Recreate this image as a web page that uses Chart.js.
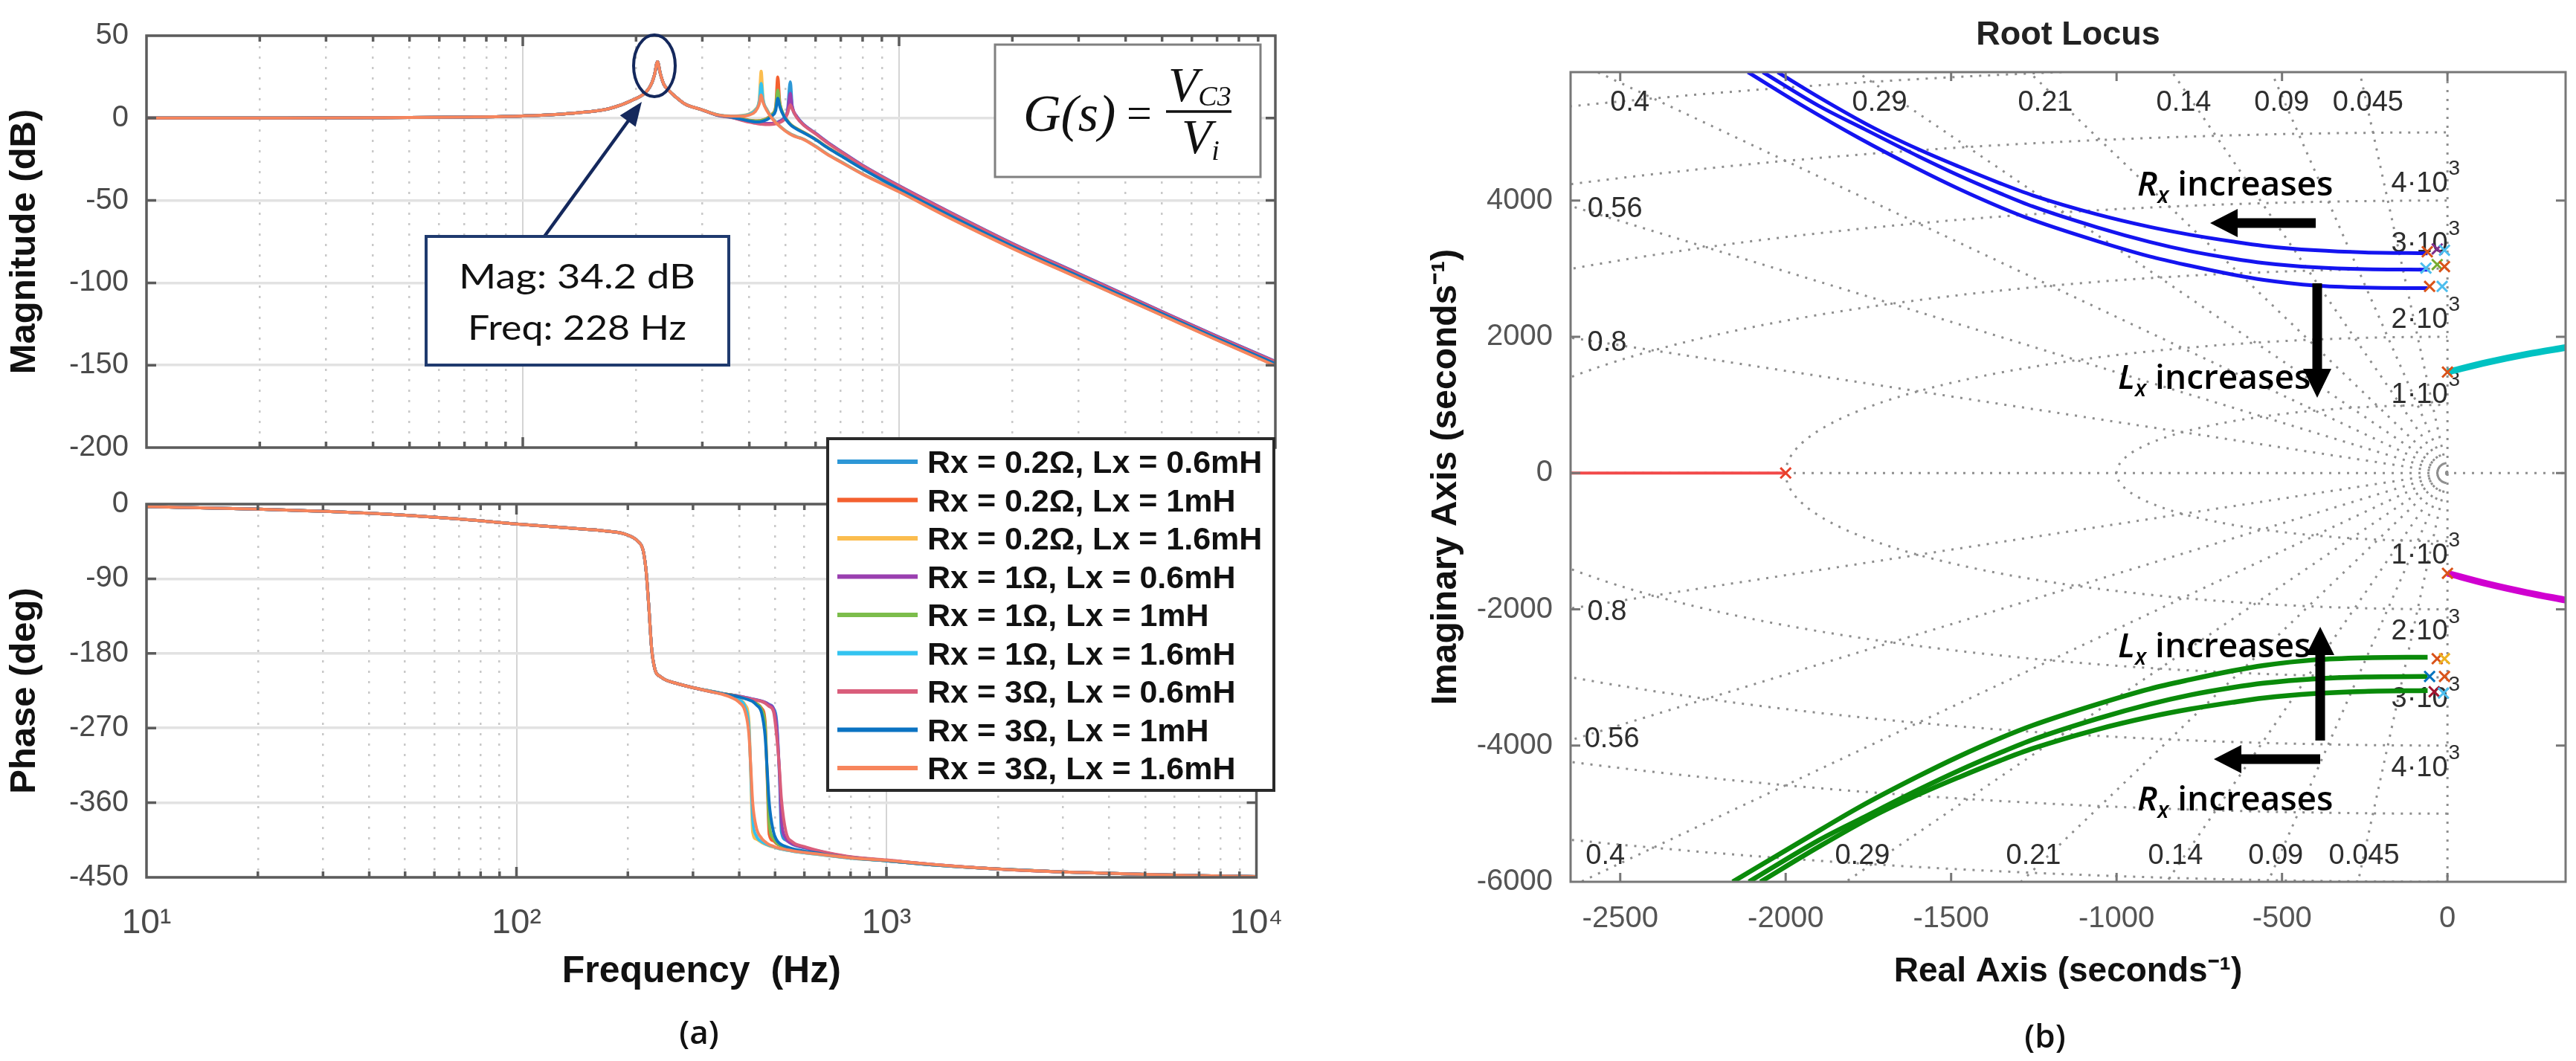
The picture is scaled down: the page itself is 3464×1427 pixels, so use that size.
<!DOCTYPE html>
<html>
<head>
<meta charset="utf-8">
<script src="https://cdn.jsdelivr.net/npm/chart.js@4.4.1/dist/chart.umd.min.js"></script>
<style>
html, body { margin: 0; padding: 0; background: #fff; }
body { width: 3464px; height: 1427px; position: relative; overflow: hidden; }
.box { position: absolute; }
#overlay { position: absolute; left: 0; top: 0; z-index: 5; }
</style>
</head>
<body>
<div class="box" style="left:0;top:0;width:1760px;height:650px"><canvas id="mag"></canvas></div>
<div class="box" style="left:0;top:630px;width:1760px;height:797px"><canvas id="phase"></canvas></div>
<div class="box" style="left:1880px;top:0;width:1584px;height:1427px"><canvas id="rl"></canvas></div>

<svg id="overlay" width="3464" height="1427" xmlns="http://www.w3.org/2000/svg">
  <!-- peak marker + callout -->
  <ellipse cx="880" cy="88.5" rx="28" ry="41.5" fill="none" stroke="#14285c" stroke-width="4"/>
  <line x1="732" y1="318" x2="846" y2="161" stroke="#14285c" stroke-width="4.5"/>
  <polygon points="863,137 854.7,170.5 833.7,155.3" fill="#14285c"/>
  <rect x="573" y="318" width="407" height="173" fill="#fff" stroke="#1f3a6e" stroke-width="4"/>
  <text x="776" y="388" text-anchor="middle" font-family="Lato, 'Open Sans', sans-serif" font-size="46" fill="#111" textLength="318" lengthAdjust="spacingAndGlyphs">Mag: 34.2 dB</text>
  <text x="776" y="457" text-anchor="middle" font-family="Lato, 'Open Sans', sans-serif" font-size="46" fill="#111" textLength="294" lengthAdjust="spacingAndGlyphs">Freq: 228 Hz</text>

  <!-- transfer function box -->
  <rect x="1338" y="60" width="357" height="178" fill="#fff" stroke="#808080" stroke-width="3"/>
  <text x="1376" y="176" font-family="'Liberation Serif', 'DejaVu Serif', serif" font-size="70" font-style="italic" fill="#111">G(s)</text>
  <text x="1515" y="172" font-family="'Liberation Serif', 'DejaVu Serif', serif" font-size="60" fill="#111">=</text>
  <text x="1571" y="136" font-family="'Liberation Serif', 'DejaVu Serif', serif" font-size="66" font-style="italic" fill="#111">V<tspan font-size="38" dy="6">C3</tspan></text>
  <line x1="1568" y1="150" x2="1656" y2="150" stroke="#111" stroke-width="3.5"/>
  <text x="1589" y="206" font-family="'Liberation Serif', 'DejaVu Serif', serif" font-size="66" font-style="italic" fill="#111">V<tspan font-size="38" dy="9">i</tspan></text>

  <!-- legend (rows filled in by script) -->
  <rect x="1113" y="590" width="600" height="473" fill="#fff" stroke="#2a2a2a" stroke-width="4"/>
  <g id="legendRows"></g>

  <text x="940" y="1404" text-anchor="middle" font-family="'Open Sans', sans-serif" font-weight="600" font-size="44" fill="#111">(a)</text>

  <!-- right panel texts and arrows -->
  <text x="2781" y="60" text-anchor="middle" font-family="'Liberation Sans', Arial, sans-serif" font-weight="bold" font-size="45" fill="#222">Root Locus</text>
  <text x="2750" y="1409" text-anchor="middle" font-family="'Open Sans', sans-serif" font-weight="600" font-size="44" fill="#111">(b)</text>

  <g font-family="'Open Sans', sans-serif" font-weight="600" font-size="46" fill="#000">
    <text x="2874" y="263"><tspan font-style="italic">R</tspan><tspan font-style="italic" font-size="30" dy="10">x</tspan><tspan dy="-10"> increases</tspan></text>
    <text x="2848" y="523"><tspan font-style="italic">L</tspan><tspan font-style="italic" font-size="30" dy="10">x</tspan><tspan dy="-10"> increases</tspan></text>
    <text x="2848" y="884"><tspan font-style="italic">L</tspan><tspan font-style="italic" font-size="30" dy="10">x</tspan><tspan dy="-10"> increases</tspan></text>
    <text x="2874" y="1090"><tspan font-style="italic">R</tspan><tspan font-style="italic" font-size="30" dy="10">x</tspan><tspan dy="-10"> increases</tspan></text>
  </g>
  <g fill="#000">
    <polygon points="2972,300 3009,281 3009,293.5 3114,293.5 3114,306.5 3009,306.5 3009,319"/>
    <polygon points="3109.5,381 3122.5,381 3122.5,496 3135,496 3116,535 3097,496 3109.5,496"/>
    <polygon points="3113.5,996 3126.5,996 3126.5,881 3139,881 3120,843 3101,881 3113.5,881"/>
    <polygon points="2977,1021 3014,1002 3014,1014.5 3120,1014.5 3120,1027.5 3014,1027.5 3014,1040"/>
  </g>
</svg>

<script>
// ---------------- Bode data (a) ----------------
var seriesLabels = [
  "Rx = 0.2\u03A9, Lx = 0.6mH", "Rx = 0.2\u03A9, Lx = 1mH", "Rx = 0.2\u03A9, Lx = 1.6mH",
  "Rx = 1\u03A9, Lx = 0.6mH", "Rx = 1\u03A9, Lx = 1mH", "Rx = 1\u03A9, Lx = 1.6mH",
  "Rx = 3\u03A9, Lx = 0.6mH", "Rx = 3\u03A9, Lx = 1mH", "Rx = 3\u03A9, Lx = 1.6mH"
];
var seriesColors = ["#2d97d6", "#f4602f", "#fbbd4f", "#9a3fb0", "#7cbd4b", "#33c3f0", "#d95d7b", "#0b73c2", "#f7855c"];

var freqHead = [10, 20, 40, 70, 100, 140, 170, 196, 213, 220, 224, 228, 232, 237, 245, 253, 270, 298];
var magHead = [0, 0.05, 0.2, 0.6, 1.3, 3.2, 5.8, 11, 16, 21, 26.5, 34.2, 27, 20.5, 16.5, 13.5, 8.5, 5.2];
var phaseHead = [-3, -6, -11, -18, -24, -29, -32, -36, -45, -56, -80, -125, -175, -200, -208, -212, -216, -221];

var freqTail = [330, 358, 380, 400, 415, 425, 430, 435, 445, 460, 470, 476, 482, 495, 505, 514, 520, 535, 556, 600, 645, 700, 800, 1000, 1380, 2000, 3000, 5000, 7000, 10000];

var magR02L06 = [1.7, 0.5, -0.8, -2, -2.7, -3, -3.1, -3.2, -3.3, -3.2, -2.8, -2.4, -1.8, 0.2, 4.2, 22, 7.5, 1, -3.6, -9.2, -14.6, -20, -28.6, -41, -57.6, -76, -94.3, -117.4, -132.4, -147.6];
var magR02L1  = [1.8, 0.8, -0.3, -1.3, -1.7, -1.6, -1.4, -1.1, -0.2, 2.5, 7, 25, 9.5, 1.5, -1.5, -3.6, -4.6, -6.4, -8.4, -12.8, -17.7, -22.6, -30.6, -42.8, -59.4, -77.5, -95.6, -118.4, -133.4, -148.8];
var magR02L16 = [2, 1.3, 1.5, 2.6, 5.2, 11, 28.5, 12, 5.5, 0.2, -2.3, -3.6, -4.8, -7, -8.4, -9.5, -10.1, -11.3, -12.6, -17, -21.8, -26.4, -33.8, -44.5, -61, -78.8, -96.8, -119.5, -134.5, -150];
var magR1L06  = [1.7, 0.5, -0.9, -2.1, -2.8, -3.1, -3.2, -3.3, -3.4, -3.3, -3, -2.6, -2, -0.1, 3.8, 15, 7, 0.8, -3.7, -9.3, -14.7, -20.1, -28.7, -41.1, -57.7, -76.1, -94.4, -117.5, -132.5, -147.7];
var magR1L1   = [1.8, 0.8, -0.4, -1.4, -1.8, -1.7, -1.5, -1.2, -0.4, 2.2, 6.3, 17, 8.8, 1.3, -1.6, -3.7, -4.7, -6.5, -8.5, -12.9, -17.8, -22.7, -30.7, -42.9, -59.5, -77.6, -95.7, -118.5, -133.5, -148.9];
var magR1L16  = [2, 1.3, 1.4, 2.4, 4.8, 10.2, 21, 11.2, 5.2, 0.1, -2.4, -3.7, -4.9, -7.1, -8.5, -9.6, -10.2, -11.4, -12.7, -17.1, -21.9, -26.5, -33.9, -44.6, -61.1, -78.9, -96.9, -119.6, -134.6, -150.1];
var magR3L06  = [1.6, 0.3, -1.2, -2.5, -3.2, -3.6, -3.7, -3.8, -3.9, -3.8, -3.5, -3.2, -2.7, -1, 2.5, 8, 5.5, 0.2, -4, -9.6, -15, -20.4, -29, -41.4, -58, -76.4, -94.7, -117.8, -132.8, -148];
var magR3L1   = [1.7, 0.6, -0.7, -1.8, -2.3, -2.3, -2.1, -1.8, -1, 1.4, 4.6, 12, 7, 0.8, -2, -4, -5, -6.8, -8.8, -13.1, -18, -22.9, -30.9, -43.1, -59.7, -77.8, -95.9, -118.7, -133.7, -149.1];
var magR3L16  = [1.9, 1.1, 1.1, 1.9, 4, 8.5, 14, 9.5, 4.6, -0.3, -2.7, -3.9, -5.1, -7.3, -8.7, -9.8, -10.4, -11.6, -12.9, -17.3, -22.1, -26.7, -34.1, -44.8, -61.3, -79.1, -97.1, -119.8, -134.8, -150.3];

var phR02L06 = [-225, -228, -230, -231.5, -233, -234, -234.5, -235, -236, -237.5, -239, -240, -241.5, -246, -262, -330, -395, -405, -410, -414.5, -418, -421.5, -425.5, -429.5, -435, -440, -443.5, -446.5, -448, -449];
var phR02L1  = [-225, -228, -230, -232, -234, -235.5, -236.5, -237.5, -240, -246, -262, -330, -398, -406, -409.5, -411.5, -412.5, -414.5, -416.5, -419, -421, -423.5, -426.5, -430, -435.5, -440, -443.5, -446.5, -448, -449];
var phR02L16 = [-225, -228, -231, -235, -242, -262, -330, -396, -404, -408, -410, -411, -412, -413.5, -414.5, -415.5, -416, -417, -418.5, -420.5, -422, -424, -427, -430, -435.5, -440, -443.5, -446.5, -448, -449];
var phR1L06  = [-225, -228, -230, -231.5, -233, -234, -234.5, -235, -236, -237.5, -239, -240.5, -242, -247, -268, -325, -380, -403, -409.5, -414, -417.5, -421, -425.5, -429.5, -435, -440, -443.5, -446.5, -448, -449];
var phR1L1   = [-225, -228, -230, -232, -234, -235.5, -236.5, -237.5, -240.5, -248, -268, -325, -385, -403, -408.5, -411, -412, -414, -416.5, -419, -421, -423.5, -426.5, -430, -435.5, -440, -443.5, -446.5, -448, -449];
var phR1L16  = [-225, -228, -231.5, -236, -245, -270, -325, -380, -400, -407, -409.5, -410.5, -411.5, -413, -414.5, -415.5, -416, -417, -418.5, -420.5, -422, -424, -427, -430, -435.5, -440, -443.5, -446.5, -448, -449];
var phR3L06  = [-225.5, -228.5, -230.5, -232, -233.5, -234.5, -235, -235.5, -236.5, -238, -240, -242, -244, -250, -280, -320, -355, -395, -407, -413, -417, -420.5, -425, -429, -435, -440, -443.5, -446.5, -448, -449];
var phR3L1   = [-225.5, -228.5, -230.5, -232.5, -234.5, -236, -237, -238, -242, -252, -280, -320, -360, -395, -405, -409, -410.5, -413, -415.5, -418.5, -420.5, -423, -426.5, -430, -435.5, -440, -443.5, -446.5, -448, -449];
var phR3L16  = [-225.5, -229, -233, -239, -250, -278, -318, -360, -390, -403, -407, -409, -410.5, -412.5, -414, -415, -415.5, -416.5, -418, -420, -421.5, -423.5, -426.5, -429.5, -435, -440, -443.5, -446.5, -448, -449];

var magSeries = [magR02L06, magR02L1, magR02L16, magR1L06, magR1L1, magR1L16, magR3L06, magR3L1, magR3L16];
var phaseSeries = [phR02L06, phR02L1, phR02L16, phR1L06, phR1L1, phR1L16, phR3L06, phR3L1, phR3L16];

var freqTicks = [10, 20, 30, 40, 50, 60, 70, 80, 90, 100, 200, 300, 400, 500, 600, 700, 800, 900,
  1000, 2000, 3000, 4000, 5000, 6000, 7000, 8000, 9000, 10000];
var decades = [10, 100, 1000, 10000];
var decadeText = ["10\u00B9", "10\u00B2", "10\u00B3", "10\u2074"];
var magTicks = [-200, -150, -100, -50, 0, 50];
var phaseTicks = [-450, -360, -270, -180, -90, 0];

// ---------------- Root locus data (b) ----------------
var blueOuter  = [[-2024, 5885], [-1900, 5519], [-1739, 5079], [-1600, 4755], [-1478, 4501], [-1350, 4250], [-1253, 4076], [-1058, 3796],
  [-900, 3613], [-779, 3499], [-650, 3399], [-555, 3335], [-400, 3270], [-250, 3238], [-60, 3226]];
var blueMiddle = [[-2069, 5885], [-1900, 5390], [-1761, 5046], [-1600, 4652], [-1478, 4371], [-1350, 4102], [-1253, 3913], [-1058, 3606],
  [-900, 3393], [-779, 3259], [-650, 3149], [-555, 3084], [-400, 3020], [-250, 2993], [-60, 2986]];
var blueInner  = [[-2114, 5885], [-1950, 5396], [-1777, 4914], [-1600, 4463], [-1478, 4174], [-1350, 3899], [-1253, 3714], [-1058, 3404],
  [-900, 3180], [-779, 3044], [-650, 2914], [-555, 2835], [-400, 2752], [-250, 2722], [-60, 2714]];
var greenInner  = [[-2160, -6000], [-1950, -5396], [-1777, -4903], [-1600, -4452], [-1478, -4163], [-1350, -3888], [-1253, -3703], [-1058, -3393],
  [-900, -3169], [-779, -3033], [-650, -2903], [-555, -2824], [-400, -2741], [-250, -2711], [-60, -2703]];
var greenMiddle = [[-2111, -6000], [-1900, -5390], [-1761, -5046], [-1600, -4652], [-1478, -4371], [-1350, -4102], [-1253, -3913], [-1058, -3606],
  [-900, -3393], [-779, -3259], [-650, -3149], [-555, -3084], [-400, -3020], [-250, -2993], [-60, -2986]];
var greenOuter  = [[-2076, -6000], [-1900, -5486], [-1739, -5046], [-1600, -4722], [-1478, -4468], [-1350, -4217], [-1253, -4043], [-1058, -3763],
  [-900, -3580], [-779, -3466], [-650, -3366], [-555, -3302], [-400, -3237], [-250, -3205], [-60, -3193]];
var cyanBranch = [[0, 1482], [120, 1625], [240, 1745], [357, 1842]];
var magentaBranch = [[0, -1471], [120, -1625], [240, -1755], [357, -1864]];
var redBranch = [[-2650, 0], [-2000, 0]];

var poleX = [-61, -31, -9, -65, -31, -9, -54, -16, 0, 0, -2000, -31, -9, -54, -9, -40, -12];
var poleY = [3248, 3290, 3270, 3008, 3060, 3030, 2740, 2740, 1482, -1471, 0, -2725, -2725, -2986, -2986, -3210, -3230];
var poleColors = ["#d95319", "#7e2f8e", "#4dbeee", "#4dbeee", "#77ac30", "#d95319", "#d95319", "#4dbeee", "#d95319",
  "#d95319", "#e8402a", "#d95319", "#edb120", "#0072bd", "#d95319", "#a2142f", "#4dbeee"];

var realTicks = [-2500, -2000, -1500, -1000, -500, 0];
var imagTicks = [-6000, -4000, -2000, 0, 2000, 4000];

// s-grid: damping ratios and natural frequencies
var dampingLevels = [0.045, 0.09, 0.14, 0.21, 0.29, 0.4, 0.56, 0.8];
var naturalFreqs = [1000, 2000, 3000, 4000, 5000, 6000];
var dampLabelText = ["0.4", "0.29", "0.21", "0.14", "0.09", "0.045"];
var dampLabelTopX = [-2471, -1716, -1215, -797, -501, -240];
var dampLabelBotX = [-2545, -1768, -1251, -822, -519, -252];
var dampLabelTopY = 5428, dampLabelBotY = -5624;
var dampSideText = ["0.56", "0.8", "0.8", "0.56"];
var dampSideX = [-2516, -2540, -2540, -2525];
var dampSideY = [3869, 1907, -2049, -3913];
var wnLabelBase = ["4\u00B710", "3\u00B710", "2\u00B710", "1\u00B710", "1\u00B710", "2\u00B710", "3\u00B710", "4\u00B710"];
var wnLabelY = [4240, 3357, 2245, 1144, -1210, -2332, -3324, -4338];
var wnLabelX = -67;

// ---------------- helpers ----------------
Chart.defaults.font.family = '"Liberation Sans", Arial, sans-serif';
Chart.defaults.color = "#4a4a4a";

function isDecade(v) { return decades.indexOf(v) >= 0; }
function pairsToPts(arr) { return arr.map(function (p) { return { x: p[0], y: p[1] }; }); }
function plainNumber(v) { return String(v); }

var framePlugin = {
  id: "frame",
  afterDraw: function (chart, args, opts) {
    var ctx = chart.ctx, a = chart.chartArea, xs = chart.scales.x, ys = chart.scales.y;
    ctx.save();
    ctx.strokeStyle = opts.color;
    ctx.lineWidth = opts.width;
    ctx.beginPath();
    xs.ticks.forEach(function (t) {
      var px = xs.getPixelForValue(t.value);
      if (px <= a.left + 2 || px >= a.right - 2) return;
      var len = opts.logX ? (isDecade(t.value) ? 14 : 8) : 12;
      ctx.moveTo(px, a.bottom); ctx.lineTo(px, a.bottom - len);
      ctx.moveTo(px, a.top); ctx.lineTo(px, a.top + len);
    });
    ys.ticks.forEach(function (t) {
      var py = ys.getPixelForValue(t.value);
      if (py <= a.top + 2 || py >= a.bottom - 2) return;
      ctx.moveTo(a.left, py); ctx.lineTo(a.left + 13, py);
      ctx.moveTo(a.right, py); ctx.lineTo(a.right - 13, py);
    });
    ctx.stroke();
    ctx.strokeRect(a.left, a.top, a.right - a.left, a.bottom - a.top);
    ctx.restore();
  }
};

function bodeXScale(showLabels) {
  return {
    type: "logarithmic", min: 10, max: 10000,
    afterBuildTicks: function (s) { s.ticks = freqTicks.map(function (v) { return { value: v }; }); },
    afterFit: function (s) { s.height = showLabels ? 247 : 26; },
    ticks: {
      display: showLabels, autoSkip: false, maxRotation: 0, padding: 35,
      font: { size: 46 }, color: "#4a4a4a",
      callback: function (v) { var i = decades.indexOf(v); return i >= 0 ? decadeText[i] : ""; }
    },
    grid: {
      drawTicks: false,
      color: function (c) { return c.tick && isDecade(c.tick.value) ? "#d4d4d4" : "#c9c9c9"; },
      lineWidth: function (c) { return c.tick && isDecade(c.tick.value) ? 2 : 2.5; }
    },
    border: { display: false, dash: function (c) { return c.tick && !isDecade(c.tick.value) ? [3, 11] : []; } },
    title: showLabels ? { display: true, text: "Frequency  (Hz)", color: "#111", font: { size: 50, weight: "bold" }, padding: { top: 0, bottom: 90 } } : { display: false }
  };
}

function bodeYScale(min, max, tickList, title) {
  return {
    min: min, max: max,
    afterBuildTicks: function (s) { s.ticks = tickList.map(function (v) { return { value: v }; }); },
    afterFit: function (s) { s.width = 197; },
    ticks: { font: { size: 40 }, color: "#4a4a4a", padding: 24, callback: plainNumber },
    grid: { drawTicks: false, color: "#e2e2e2", lineWidth: 3.5 },
    border: { display: false },
    title: { display: true, text: title, color: "#111", font: { size: 49, weight: "bold" }, padding: { top: 4, bottom: 0 } }
  };
}

function bodeDatasets(valueSeries, head) {
  var freq = freqHead.concat(freqTail);
  return valueSeries.map(function (tail, i) {
    var vals = head.concat(tail);
    return {
      label: seriesLabels[i],
      data: freq.map(function (f, k) { return { x: f, y: vals[k] }; }),
      borderColor: seriesColors[i],
      borderWidth: 4,
      pointRadius: 0,
      cubicInterpolationMode: "monotone",
      order: 9 - i
    };
  });
}

var commonOpts = {
  responsive: true, maintainAspectRatio: false, animation: false, devicePixelRatio: 1
};

// ---------------- magnitude chart ----------------
new Chart(document.getElementById("mag").getContext("2d"), {
  type: "line",
  data: { datasets: bodeDatasets(magSeries, magHead) },
  options: Object.assign({}, commonOpts, {
    layout: { padding: { top: 37, right: 45, left: 0, bottom: 0 } },
    scales: { x: bodeXScale(false), y: bodeYScale(-200, 50, magTicks, "Magnitude (dB)") },
    plugins: { legend: { display: false }, tooltip: { enabled: false }, frame: { color: "#5c5c5c", width: 3.5, logX: true } }
  }),
  plugins: [framePlugin]
});

// ---------------- phase chart ----------------
new Chart(document.getElementById("phase").getContext("2d"), {
  type: "line",
  data: { datasets: bodeDatasets(phaseSeries, phaseHead) },
  options: Object.assign({}, commonOpts, {
    layout: { padding: { top: 40, right: 45, left: 0, bottom: 0 } },
    scales: { x: bodeXScale(true), y: bodeYScale(-450, 0, phaseTicks, "Phase (deg)") },
    plugins: { legend: { display: false }, tooltip: { enabled: false }, frame: { color: "#5c5c5c", width: 3.5, logX: true } }
  }),
  plugins: [framePlugin]
});

// legend rows (from the series arrays)
(function () {
  var ns = "http://www.w3.org/2000/svg", g = document.getElementById("legendRows");
  seriesLabels.forEach(function (lab, i) {
    var cy = 621 + i * 51.5;
    var ln = document.createElementNS(ns, "line");
    ln.setAttribute("x1", 1126); ln.setAttribute("x2", 1234);
    ln.setAttribute("y1", cy); ln.setAttribute("y2", cy);
    ln.setAttribute("stroke", seriesColors[i]); ln.setAttribute("stroke-width", 6);
    g.appendChild(ln);
    var tx = document.createElementNS(ns, "text");
    tx.setAttribute("x", 1247); tx.setAttribute("y", cy + 15);
    tx.setAttribute("font-family", "'Liberation Sans', Arial, sans-serif");
    tx.setAttribute("font-weight", "bold"); tx.setAttribute("font-size", 43);
    tx.setAttribute("fill", "#111");
    tx.textContent = lab;
    g.appendChild(tx);
  });
})();

// ---------------- root locus chart ----------------
var sgridPlugin = {
  id: "sgrid",
  beforeDatasetsDraw: function (chart) {
    var ctx = chart.ctx, a = chart.chartArea, x = chart.scales.x, y = chart.scales.y;
    var ox = x.getPixelForValue(0), oy = y.getPixelForValue(0);
    ctx.save();
    ctx.beginPath(); ctx.rect(a.left, a.top, a.right - a.left, a.bottom - a.top); ctx.clip();
    ctx.strokeStyle = "#8e8e8e"; ctx.lineWidth = 3; ctx.setLineDash([3, 9]);
    dampingLevels.forEach(function (z) {
      var w = Math.sqrt(1 - z * z);
      [1, -1].forEach(function (s) {
        ctx.beginPath(); ctx.moveTo(ox, oy);
        ctx.lineTo(x.getPixelForValue(-z * 30000), y.getPixelForValue(s * w * 30000));
        ctx.stroke();
      });
    });
    ctx.beginPath(); ctx.moveTo(a.left, oy); ctx.lineTo(a.right, oy); ctx.stroke();
    ctx.beginPath(); ctx.moveTo(ox, a.top); ctx.lineTo(ox, a.bottom); ctx.stroke();
    naturalFreqs.forEach(function (wn) {
      var rx = ox - x.getPixelForValue(-wn), ry = y.getPixelForValue(-wn) - oy;
      ctx.beginPath(); ctx.ellipse(ox, oy, rx, ry, 0, Math.PI / 2, Math.PI * 1.5); ctx.stroke();
    });
    ctx.setLineDash([]);
    ctx.fillStyle = "#2e2e2e"; ctx.textAlign = "center"; ctx.textBaseline = "middle";
    ctx.font = '38px "Liberation Sans", Arial, sans-serif';
    dampLabelText.forEach(function (t, i) {
      ctx.fillText(t, x.getPixelForValue(dampLabelTopX[i]), y.getPixelForValue(dampLabelTopY));
      ctx.fillText(t, x.getPixelForValue(dampLabelBotX[i]), y.getPixelForValue(dampLabelBotY));
    });
    dampSideText.forEach(function (t, i) {
      ctx.fillText(t, x.getPixelForValue(dampSideX[i]), y.getPixelForValue(dampSideY[i]));
    });
    ctx.textAlign = "left";
    wnLabelBase.forEach(function (t, i) {
      ctx.font = '38px "Liberation Sans", Arial, sans-serif';
      var w1 = ctx.measureText(t).width;
      ctx.font = '28px "Liberation Sans", Arial, sans-serif';
      var w2 = ctx.measureText("3").width;
      var cx = x.getPixelForValue(wnLabelX), cy = y.getPixelForValue(wnLabelY[i]);
      var sx = cx - (w1 + w2) / 2;
      ctx.font = '38px "Liberation Sans", Arial, sans-serif';
      ctx.fillText(t, sx, cy);
      ctx.font = '28px "Liberation Sans", Arial, sans-serif';
      ctx.fillText("3", sx + w1 + 1, cy - 20);
    });
    ctx.restore();
  }
};

function branch(arr, color, width) {
  return { data: pairsToPts(arr), showLine: true, borderColor: color, borderWidth: width,
    pointRadius: 0, cubicInterpolationMode: "monotone", order: 1 };
}

new Chart(document.getElementById("rl").getContext("2d"), {
  type: "scatter",
  data: {
    datasets: [
      {
        data: poleX.map(function (v, i) { return { x: v, y: poleY[i] }; }),
        pointStyle: "crossRot", pointRadius: 10, pointBorderWidth: 3,
        pointBorderColor: poleColors, pointBackgroundColor: poleColors, showLine: false, order: 0
      },
      branch(blueOuter, "#1414f0", 5), branch(blueMiddle, "#1414f0", 5), branch(blueInner, "#1414f0", 5),
      branch(greenInner, "#0a8a0a", 6.5), branch(greenMiddle, "#0a8a0a", 6.5), branch(greenOuter, "#0a8a0a", 6.5),
      branch(cyanBranch, "#00c2c2", 9), branch(magentaBranch, "#d000d0", 9), branch(redBranch, "#f24a4a", 4)
    ]
  },
  options: Object.assign({}, commonOpts, {
    layout: { padding: { top: 97, right: 14, left: 0, bottom: 0 } },
    scales: {
      x: {
        type: "linear", min: -2650, max: 357,
        afterBuildTicks: function (s) { s.ticks = realTicks.map(function (v) { return { value: v }; }); },
        afterFit: function (s) { s.height = 241; },
        ticks: { font: { size: 40 }, color: "#555", padding: 26, maxRotation: 0, autoSkip: false, callback: plainNumber },
        grid: { display: false, drawTicks: false },
        border: { display: false },
        title: { display: true, text: "Real Axis (seconds\u207B\u00B9)", color: "#111", font: { size: 46, weight: "bold" }, padding: { top: 0, bottom: 92 } }
      },
      y: {
        type: "linear", min: -6000, max: 5885,
        afterBuildTicks: function (s) { s.ticks = imagTicks.map(function (v) { return { value: v }; }); },
        afterFit: function (s) { s.width = 232; },
        ticks: { font: { size: 40 }, color: "#555", padding: 24, autoSkip: false, callback: plainNumber },
        grid: { display: false, drawTicks: false },
        border: { display: false },
        title: { display: true, text: "Imaginary Axis (seconds\u207B\u00B9)", color: "#111", font: { size: 48, weight: "bold" }, padding: { top: 36, bottom: 0 } }
      }
    },
    plugins: { legend: { display: false }, tooltip: { enabled: false }, frame: { color: "#777", width: 3, logX: false } }
  }),
  plugins: [sgridPlugin, framePlugin]
});
</script>
</body>
</html>
